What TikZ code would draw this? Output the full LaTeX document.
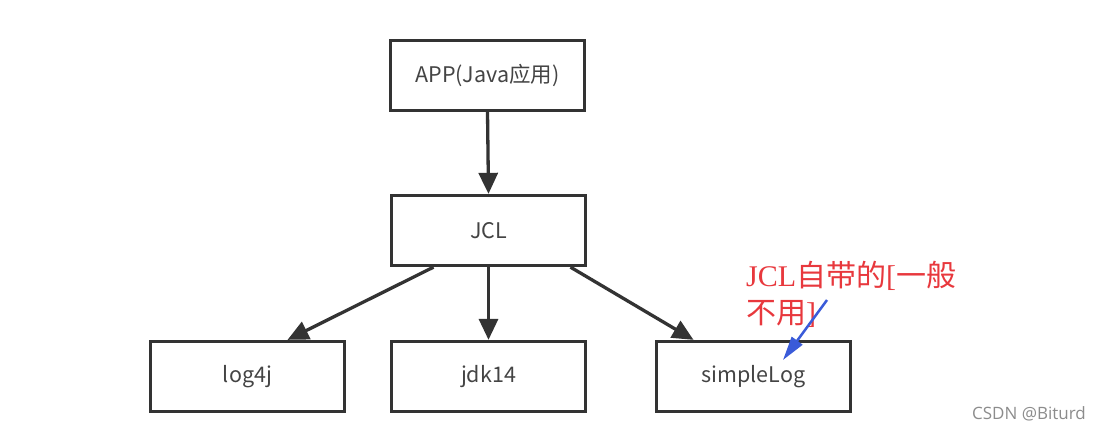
\documentclass[tikz,border=0pt]{standalone}
\usepackage{fontspec}
\setmainfont{Liberation Serif}
\newfontfamily\cjk{Noto Sans CJK SC}
\newfontfamily\cjkser{Noto Sans CJK SC}
\newfontfamily\wmfont{Open Sans}
\usetikzlibrary{arrows.meta}
\definecolor{boxline}{HTML}{333333}
\definecolor{boxtext}{HTML}{444444}
\definecolor{notered}{HTML}{E8383D}
\definecolor{noteblue}{HTML}{3A5BD9}
\begin{document}
\begin{tikzpicture}[x=1pt,y=-1pt,
  box/.style={draw=boxline, line width=3.3pt, minimum width=194pt, minimum height=70pt, inner sep=0pt,
     font=\cjk\fontsize{21.5}{24}\selectfont, text=boxtext},
  conn/.style={draw=boxline, line width=3.3pt, -{Triangle[length=21pt,width=19pt]}}]
\useasboundingbox (0,0) rectangle (1099,432);
\fill[white] (0,0) rectangle (1099,432);
\node[box] (app) at (487.5,75.5) {APP(Java应用)};
\node[box] (jcl) at (488.5,230.5) {JCL};
\node[box] (log) at (247.5,376.5) {log4j};
\node[box] (jdk) at (488.5,376.5) {jdk14};
\node[box] (simple) at (753.5,376.5) {simpleLog};
\draw[conn] (app.south) -- (jcl.north);
\draw[conn] ([xshift=-55pt]jcl.south) -- ([xshift=40pt]log.north);
\draw[conn] (jcl.south) -- (jdk.north);
\draw[conn] ([xshift=82pt]jcl.south) -- ([xshift=-60pt]simple.north);
\node[anchor=north west, inner sep=0pt, text=notered, font=\fontsize{30}{37}\selectfont, align=left] (note) at (746,261)
  {JCL{\cjkser 自带的}[{\cjkser 一般}\\{\cjkser 不用}]};
\coordinate (tail) at (827,300);
\coordinate (tip) at (783,360);
\draw[noteblue, line width=2.5pt, -{Triangle[length=24pt,width=13pt]}] (tail) -- (tip);
\node[anchor=east, inner sep=0pt, text=black!45, font=\wmfont\fontsize{17}{20}\selectfont] (wm) at (1086,414) {CSDN @Biturd};
\end{tikzpicture}
\end{document}
